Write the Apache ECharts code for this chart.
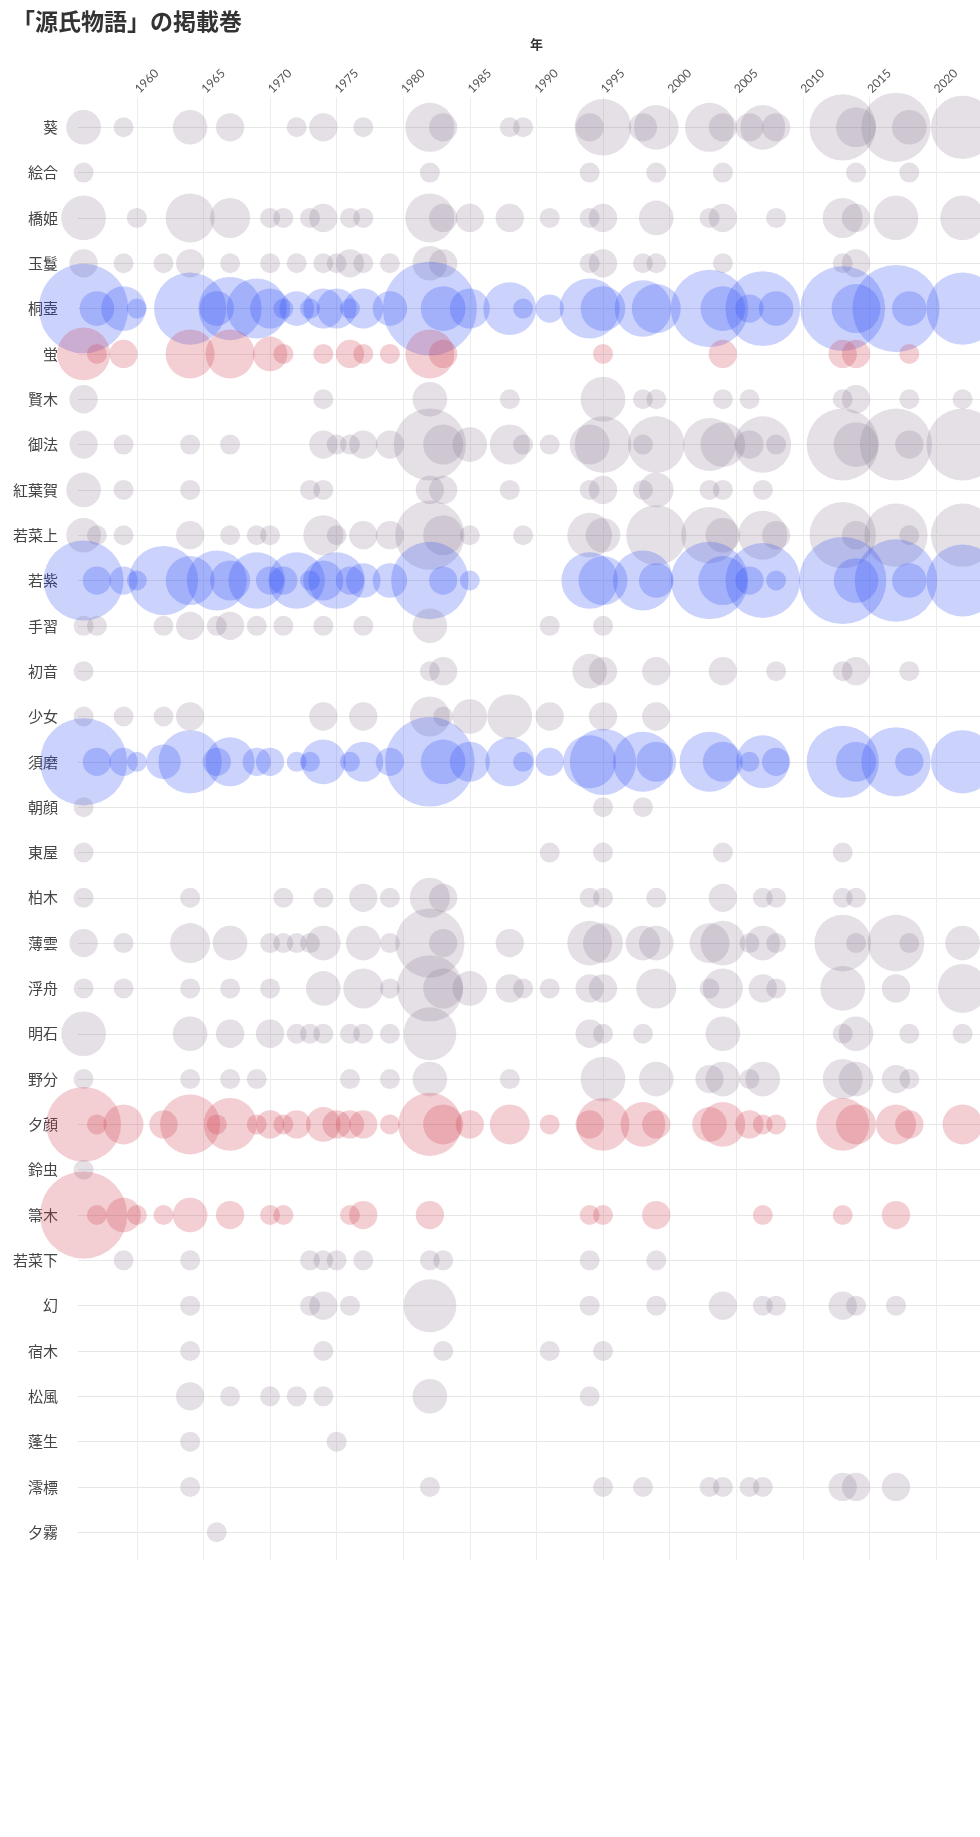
<!DOCTYPE html>
<html><head><meta charset="utf-8">
<script src="https://cdn.jsdelivr.net/npm/echarts@6/dist/echarts.min.js"></script>
<style>html,body{margin:0;padding:0;background:#fff}#c{width:980px;height:1837px}</style>
</head><body><div id="c"></div><script>
// ---- categories (chapters, top to bottom) ----
const chapters = ['葵','絵合','橋姫','玉鬘','桐壺','蛍','賢木','御法','紅葉賀','若菜上','若紫','手習','初音','少女','須磨','朝顔','東屋','柏木','薄雲','浮舟','明石','野分','夕顔','鈴虫','箒木','若菜下','幻','宿木','松風','蓬生','澪標','夕霧'];
const blueChapters = ['桐壺','若紫','須磨'];
const redChapters = ['蛍','夕顔','箒木'];
const chartTitle = '「源氏物語」の掲載巻';
const xAxisName = '年';
const xTickMin = 1955, xTickMax = 2025, xTickStep = 5;

// ---- values: [year, number of textbooks] per chapter ----
const aoi = [[1956,3],[1959,1],[1964,3],[1967,2],[1972,1],[1974,2],[1977,1],[1982,6],[1983,2],[1988,1],[1989,1],[1994,2],[1995,8],[1998,2],[1999,5],[2003,6],[2004,2],[2006,2],[2007,5],[2008,2],[2013,11],[2014,4],[2017,12],[2018,3],[2022,10]];
const eawase = [[1956,1],[1982,1],[1994,1],[1999,1],[2004,1],[2014,1],[2018,1]];
const hashihime = [[1956,5],[1960,1],[1964,6],[1967,4],[1970,1],[1971,1],[1973,1],[1974,2],[1976,1],[1977,1],[1982,6],[1983,2],[1985,2],[1988,2],[1991,1],[1994,1],[1995,2],[1999,3],[2003,1],[2004,2],[2008,1],[2013,4],[2014,2],[2017,5],[2022,5]];
const tamakazura = [[1956,2],[1959,1],[1962,1],[1964,2],[1967,1],[1970,1],[1972,1],[1974,1],[1975,1],[1976,2],[1977,1],[1979,1],[1982,3],[1983,2],[1994,1],[1995,2],[1998,1],[1999,1],[2004,1],[2013,1],[2014,2]];
const kiritsubo = [[1956,20],[1957,3],[1959,5],[1960,1],[1964,13],[1966,3],[1967,10],[1969,9],[1970,4],[1971,1],[1972,3],[1973,1],[1974,4],[1975,4],[1976,1],[1977,4],[1979,3],[1982,22],[1983,5],[1985,4],[1988,7],[1989,1],[1991,2],[1994,9],[1995,5],[1998,8],[1999,6],[2003,15],[2004,5],[2006,2],[2007,14],[2008,3],[2013,18],[2014,6],[2017,19],[2018,3],[2022,13]];
const hotaru = [[1956,7],[1957,1],[1959,2],[1964,6],[1967,6],[1970,3],[1971,1],[1974,1],[1976,2],[1977,1],[1979,1],[1982,6],[1983,2],[1995,1],[2004,2],[2013,2],[2014,2],[2018,1]];
const sakaki = [[1956,2],[1974,1],[1982,3],[1988,1],[1995,5],[1998,1],[1999,1],[2004,1],[2006,1],[2013,1],[2014,2],[2018,1],[2022,1]];
const minori = [[1956,2],[1959,1],[1964,1],[1967,1],[1974,2],[1975,1],[1976,1],[1977,2],[1979,2],[1982,13],[1983,4],[1985,3],[1988,4],[1989,1],[1991,1],[1994,4],[1995,8],[1998,1],[1999,8],[2003,7],[2004,5],[2006,2],[2007,8],[2008,1],[2013,13],[2014,5],[2017,13],[2018,2],[2022,13]];
const momijinoga = [[1956,3],[1959,1],[1964,1],[1973,1],[1974,1],[1982,2],[1983,2],[1988,1],[1994,1],[1995,2],[1998,1],[1999,3],[2003,1],[2004,1],[2007,1]];
const wakanaJo = [[1956,3],[1957,1],[1959,1],[1964,2],[1967,1],[1969,1],[1970,1],[1974,4],[1975,1],[1977,2],[1979,2],[1982,12],[1983,4],[1985,1],[1989,1],[1994,5],[1995,3],[1999,9],[2003,8],[2004,3],[2007,6],[2008,2],[2013,11],[2014,2],[2017,10],[2018,1],[2022,10]];
const wakamurasaki = [[1956,16],[1957,2],[1959,2],[1960,1],[1962,12],[1964,6],[1966,9],[1967,4],[1969,8],[1970,2],[1971,2],[1972,8],[1973,1],[1974,4],[1975,8],[1976,2],[1977,3],[1979,3],[1982,15],[1983,2],[1985,1],[1994,8],[1995,6],[1998,9],[1999,3],[2003,15],[2004,6],[2006,2],[2007,14],[2008,1],[2013,19],[2014,5],[2017,17],[2018,3],[2022,13]];
const tenarai = [[1956,1],[1957,1],[1962,1],[1964,2],[1966,1],[1967,2],[1969,1],[1971,1],[1974,1],[1977,1],[1982,3],[1991,1],[1995,1]];
const hatsune = [[1956,1],[1982,1],[1983,2],[1994,3],[1995,2],[1999,2],[2004,2],[2008,1],[2013,1],[2014,2],[2018,1]];
const otome = [[1956,1],[1959,1],[1962,1],[1964,2],[1974,2],[1977,2],[1982,4],[1983,1],[1985,3],[1988,5],[1991,2],[1995,2],[1999,2]];
const suma = [[1956,19],[1957,2],[1959,2],[1960,1],[1962,3],[1964,10],[1966,2],[1967,6],[1969,2],[1970,2],[1972,1],[1973,1],[1974,5],[1976,1],[1977,4],[1979,2],[1982,20],[1983,5],[1985,4],[1988,6],[1989,1],[1991,2],[1994,7],[1995,11],[1998,9],[1999,4],[2003,9],[2004,4],[2006,1],[2007,7],[2008,2],[2013,13],[2014,4],[2017,12],[2018,2],[2022,10]];
const asagao = [[1956,1],[1995,1],[1998,1]];
const azumaya = [[1956,1],[1991,1],[1995,1],[2004,1],[2013,1]];
const kashiwagi = [[1956,1],[1964,1],[1971,1],[1974,1],[1977,2],[1979,1],[1982,4],[1983,2],[1994,1],[1995,1],[1999,1],[2004,2],[2007,1],[2008,1],[2013,1],[2014,1]];
const usugumo = [[1956,2],[1959,1],[1964,4],[1967,3],[1970,1],[1971,1],[1972,1],[1973,1],[1974,3],[1977,3],[1979,1],[1982,12],[1983,2],[1988,2],[1994,5],[1995,4],[1998,3],[1999,3],[2003,4],[2004,5],[2006,1],[2007,3],[2008,1],[2013,8],[2014,1],[2017,8],[2018,1],[2022,3]];
const ukifune = [[1956,1],[1959,1],[1964,1],[1967,1],[1970,1],[1974,3],[1977,4],[1979,1],[1982,11],[1983,4],[1985,3],[1988,2],[1989,1],[1991,1],[1994,2],[1995,2],[1999,4],[2003,1],[2004,4],[2007,2],[2008,1],[2013,5],[2017,2],[2022,6]];
const akashi = [[1956,5],[1964,3],[1967,2],[1970,2],[1972,1],[1973,1],[1974,1],[1976,1],[1977,1],[1979,1],[1982,7],[1994,2],[1995,1],[1998,1],[2004,3],[2013,1],[2014,3],[2018,1],[2022,1]];
const nowaki = [[1956,1],[1964,1],[1967,1],[1969,1],[1976,1],[1979,1],[1982,3],[1988,1],[1995,5],[1999,3],[2003,2],[2004,3],[2006,1],[2007,3],[2013,4],[2014,3],[2017,2],[2018,1]];
const yugao = [[1956,14],[1957,1],[1959,4],[1962,2],[1964,9],[1966,1],[1967,7],[1969,1],[1970,2],[1971,1],[1972,2],[1974,3],[1975,2],[1976,2],[1977,2],[1979,1],[1982,10],[1983,4],[1985,2],[1988,4],[1991,1],[1994,2],[1995,7],[1998,5],[1999,2],[2003,3],[2004,5],[2006,2],[2007,1],[2008,1],[2013,7],[2014,4],[2017,4],[2018,2],[2022,4]];
const suzumushi = [[1956,1]];
const hahakigi = [[1956,19],[1957,1],[1959,3],[1960,1],[1962,1],[1964,3],[1967,2],[1970,1],[1971,1],[1976,1],[1977,2],[1982,2],[1994,1],[1995,1],[1999,2],[2007,1],[2013,1],[2017,2]];
const wakanaGe = [[1959,1],[1964,1],[1973,1],[1974,1],[1975,1],[1977,1],[1982,1],[1983,1],[1994,1],[1999,1]];
const maboroshi = [[1964,1],[1973,1],[1974,2],[1976,1],[1982,7],[1994,1],[1999,1],[2004,2],[2007,1],[2008,1],[2013,2],[2014,1],[2017,1]];
const yadorigi = [[1964,1],[1974,1],[1983,1],[1991,1],[1995,1]];
const matsukaze = [[1964,2],[1967,1],[1970,1],[1972,1],[1974,1],[1982,3],[1994,1]];
const yomogiu = [[1964,1],[1975,1]];
const miotsukushi = [[1964,1],[1982,1],[1995,1],[1998,1],[2003,1],[2004,1],[2006,1],[2007,1],[2013,2],[2014,2],[2017,2]];
const yugiri = [[1966,1]];

const chapterValues = [aoi,eawase,hashihime,tamakazura,kiritsubo,hotaru,sakaki,minori,momijinoga,wakanaJo,wakamurasaki,tenarai,hatsune,otome,suma,asagao,azumaya,kashiwagi,usugumo,ukifune,akashi,nowaki,yugao,suzumushi,hahakigi,wakanaGe,maboroshi,yadorigi,matsukaze,yomogiu,miotsukushi,yugiri];

// ---- styling ----
const GRAY = 'rgba(135,115,142,0.28)';
const BLUE = 'rgba(40,72,245,0.30)';
const RED = 'rgba(205,58,74,0.30)';
function colorOf(name){ return blueChapters.includes(name) ? BLUE : (redChapters.includes(name) ? RED : GRAY); }
const SIZE_UNIT = 20;
const FONT = '"Noto Sans CJK JP", "Noto Sans", sans-serif';

const chart = echarts.init(document.getElementById('c'), null, {renderer:'canvas'});
const series = chapters.map((name, i) => ({
  type: 'scatter', name: name, xAxisIndex: 0, yAxisIndex: 0, clip: false,
  data: chapterValues[i].map(d => [d[0], name, d[1]]),
  symbolSize: v => SIZE_UNIT * Math.sqrt(v[2]),
  itemStyle: { color: colorOf(name), borderWidth: 0 },
  emphasis: { disabled: true },
  silent: true
}));

chart.setOption({
  animation: false,
  backgroundColor: '#fff',
  title: { text: chartTitle, left: 7, top: 5, textStyle: { fontSize: 23, fontWeight: 'bold', color: '#333', fontFamily: FONT } },
  grid: [
    { left: 78, top: 127.3, width: 916, height: 1405, containLabel: false, outerBoundsMode: 'none' },
    { left: 70.3, top: 97, width: 932.3, height: 1463, containLabel: false, outerBoundsMode: 'none' }
  ],
  xAxis: [
    { gridIndex: 0, type: 'value', min: 1955.58, max: 2024.36, show: false },
    { gridIndex: 1, type: 'value', position: 'top', min: xTickMin, max: xTickMax, interval: xTickStep,
      name: xAxisName, nameLocation: 'middle', nameGap: 46,
      nameTextStyle: { fontWeight: 'bold', fontSize: 13, color: '#333', fontFamily: FONT },
      axisLine: { show: false }, axisTick: { show: false },
      axisLabel: { rotate: 45, showMinLabel: false, showMaxLabel: false, fontSize: 12, color: '#555', margin: 6, fontFamily: 'Lato, "Noto Sans", sans-serif', formatter: v => String(v) },
      splitLine: { show: true, showMinLine: false, showMaxLine: false, lineStyle: { color: '#ececec', width: 1 } } }
  ],
  yAxis: [
    { gridIndex: 0, type: 'category', data: chapters, inverse: true, boundaryGap: false,
      axisLine: { show: false }, axisTick: { show: false },
      axisLabel: { interval: 0, fontSize: 15, color: '#444', margin: 20, fontFamily: FONT },
      splitLine: { show: true, interval: 0, lineStyle: { color: '#e6e6e6', width: 1 } } },
    { gridIndex: 1, type: 'value', show: false }
  ],
  series: series
});
</script></body></html>
